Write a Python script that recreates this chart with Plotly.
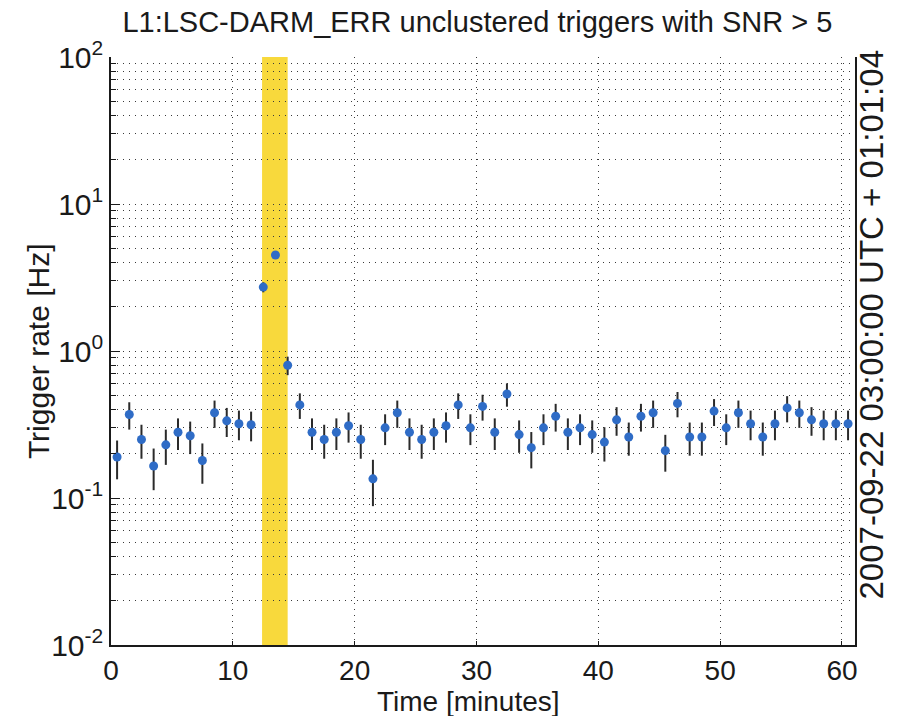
import plotly.graph_objects as go

# one-minute bins, centre of each bin in minutes
minutes = [m + 0.5 for m in range(61)]

# trigger rate per bin [Hz]
rate = [0.19, 0.37, 0.25, 0.165, 0.23, 0.28, 0.265, 0.18, 0.38, 0.335,
        0.32, 0.315, 2.72, 4.5, 0.80, 0.43, 0.28, 0.25, 0.28, 0.31,
        0.25, 0.135, 0.30, 0.38, 0.28, 0.25, 0.28, 0.31, 0.43, 0.30,
        0.42, 0.28, 0.51, 0.27, 0.22, 0.30, 0.36, 0.28, 0.30, 0.27,
        0.24, 0.34, 0.26, 0.36, 0.38, 0.21, 0.44, 0.26, 0.26, 0.39,
        0.30, 0.38, 0.32, 0.26, 0.32, 0.41, 0.38, 0.34, 0.32, 0.32,
        0.32]

# statistical uncertainty per bin [Hz]
rate_err = [0.056, 0.078, 0.065, 0.052, 0.062, 0.068, 0.066, 0.055, 0.080, 0.075,
            0.073, 0.072, 0.213, 0.274, 0.115, 0.085, 0.068, 0.065, 0.068, 0.072,
            0.065, 0.047, 0.071, 0.080, 0.068, 0.065, 0.068, 0.072, 0.085, 0.071,
            0.084, 0.068, 0.092, 0.067, 0.061, 0.071, 0.077, 0.068, 0.071, 0.067,
            0.063, 0.075, 0.066, 0.077, 0.080, 0.059, 0.086, 0.066, 0.066, 0.081,
            0.071, 0.080, 0.073, 0.066, 0.073, 0.083, 0.080, 0.075, 0.073, 0.073,
            0.073]

# highlighted interval [minutes]
band_start, band_end = 12.4, 14.5

x_range = [0, 61.07]
x_ticks = [0, 10, 20, 30, 40, 50, 60]
y_exponents = [-2, -1, 0, 1, 2]
y_ticktext = ["10<sup>%d</sup>" % e for e in y_exponents]

title_text = "L1:LSC-DARM_ERR unclustered triggers with SNR > 5"
x_title = "Time [minutes]"
y_title = "Trigger rate [Hz]"
epoch_text = "2007-09-22 03:00:00 UTC + 01:01:04"

FONT = "Liberation Sans, Arial, Helvetica, sans-serif"
INK = "#1a1a1a"
GRID = "#3a3a3a"
DOTS = "1px,5px"

fig = go.Figure()

fig.add_shape(type="rect", xref="x", yref="paper",
              x0=band_start, x1=band_end, y0=0, y1=1,
              fillcolor="#f8d93c", line=dict(width=0), layer="below")

fig.add_trace(go.Scatter(
    x=minutes, y=rate, mode="markers",
    marker=dict(color="#2f6cc6", size=9, line=dict(width=0)),
    error_y=dict(type="data", array=rate_err, visible=True,
                 color="#2a2a2a", thickness=2, width=0),
    showlegend=False,
))

fig.update_layout(
    width=899, height=716,
    margin=dict(l=111, r=44, t=57, b=71),
    paper_bgcolor="white", plot_bgcolor="rgba(0,0,0,0)",
    font=dict(family=FONT, size=30, color=INK),
    title=dict(text=title_text, x=0.531, xanchor="center",
               y=0.97, yanchor="middle",
               font=dict(family=FONT, size=29, color=INK)),
)

fig.update_xaxes(
    range=x_range, tickmode="array", tickvals=x_ticks,
    ticks="inside", ticklen=4, tickcolor=INK,
    showline=True, linecolor=INK, linewidth=1.5, mirror=False,
    showgrid=True, gridcolor=GRID, griddash=DOTS, gridwidth=1,
    zeroline=False, tickfont=dict(size=28, color=INK),
)

fig.update_yaxes(
    type="log", range=[-2, 2], tickmode="array",
    tickvals=[10.0 ** e for e in y_exponents], ticktext=y_ticktext,
    ticks="inside", ticklen=9, tickcolor=INK,
    showline=True, linecolor=INK, linewidth=1.5, mirror=True,
    showgrid=True, gridcolor=GRID, griddash=DOTS, gridwidth=1,
    minor=dict(ticks="inside", ticklen=5, tickcolor=INK, dtick="D1",
               showgrid=True, gridcolor=GRID, griddash=DOTS, gridwidth=1),
    zeroline=False, tickfont=dict(size=30, color=INK),
)

fig.add_annotation(text=x_title, xref="paper", yref="paper",
                   x=0.481, y=-0.096, xanchor="center", yanchor="middle",
                   showarrow=False, font=dict(size=28, color=INK))
fig.add_annotation(text=y_title, xref="paper", yref="paper",
                   x=-0.098, y=0.5, xanchor="center", yanchor="middle",
                   textangle=-90, showarrow=False, font=dict(size=30, color=INK))
fig.add_annotation(text=epoch_text, xref="paper", yref="paper",
                   x=1.022, y=0.544, xanchor="center", yanchor="middle",
                   textangle=-90, showarrow=False, font=dict(size=33, color=INK))

fig.write_html("out.html")
